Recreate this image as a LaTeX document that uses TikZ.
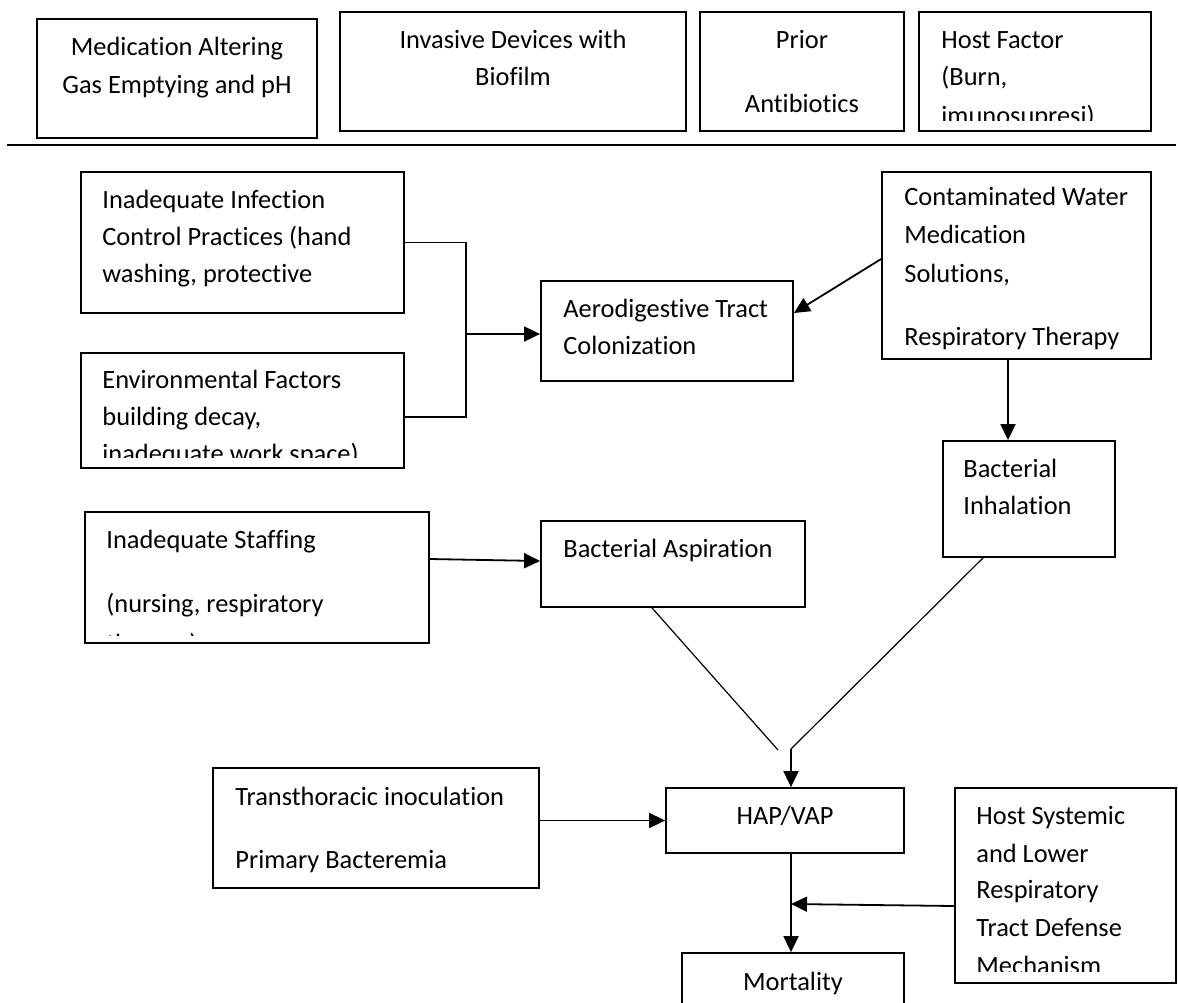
\documentclass[tikz,border=0pt]{standalone}
\usepackage{fontspec}
\setmainfont{Carlito}[Ligatures=NoCommon]
\usetikzlibrary{arrows.meta,fit}

\begin{document}
\begin{tikzpicture}[x=0.5pt,y=-0.5pt,
  box/.style={draw,line width=0.9pt,inner sep=0pt},
  txt/.style={anchor=base west,inner sep=0pt,font=\fontsize{13.2}{18.6}\selectfont},
  ctxt/.style={anchor=base,inner sep=0pt,font=\fontsize{13.2}{18.6}\selectfont},
  conn/.style={line width=0.9pt},
  diag/.style={line width=0.6pt},
  arr/.style={line width=0.9pt,-{Triangle[length=8pt,width=7.5pt]}}]
\useasboundingbox (0,0) rectangle (1178,1002);
\clip (0,0) rectangle (1178,1002);
\fill[white] (0,0) rectangle (1178,1002);

% top row
\node[box,fit={(37,19) (317,138)}] (med) {};
\node[box,fit={(340,12) (686,131)}] (inv) {};
\node[box,fit={(700,12) (904,131)}] (prior) {};
\node[box,fit={(919,12) (1151,131)}] (host) {};
\draw[line width=1.1pt] (7,145) -- (1176,145);

\node[ctxt] (med1) at (177,55) {Medication Altering};
\node[ctxt] (med2) at (177,93) {Gas Emptying and pH};
\node[ctxt] (inv1) at (513,48) {Invasive Devices with};
\node[ctxt] (inv2) at (513,85) {Biofilm};
\node[ctxt] (prior1) at (802,48) {Prior};
\node[ctxt] (prior2) at (802,112) {Antibiotics};
\node[txt] (host1) at (941,48) {Host Factor};
\node[txt] (host2) at (941,85) {(Burn,};
\begin{scope}
\clip (919,12) rectangle (1151,120);
\node[txt] (host3) at (941,124) {imunosupresi)};
\end{scope}

% boxes
\node[box,fit={(81,172) (404,313)}] (infect) {};
\node[box,fit={(81,353) (404,468)}] (env) {};
\node[box,fit={(541,281) (793,381)}] (aero) {};
\node[box,fit={(882,172) (1151,359)}] (contam) {};
\node[box,fit={(943,441) (1115,557)}] (inhal) {};
\node[box,fit={(85,512) (429,643)}] (staff) {};
\node[box,fit={(541,521) (805,607)}] (asp) {};
\node[box,fit={(213,768) (539,888)}] (trans) {};
\node[box,fit={(666,788) (904,853)}] (hap) {};
\node[box,fit={(955,788) (1176,983)}] (sysdef) {};
\node[box,fit={(682,953) (904,1030)}] (mort) {};

\node[txt] (infect1) at (102,208) {Inadequate Infection};
\node[txt] (infect2) at (102,245) {Control Practices (hand};
\node[txt] (infect3) at (102,282) {washing, protective};

\node[txt] (env1) at (102,388) {Environmental Factors};
\node[txt] (env2) at (102,425) {building decay,};
\begin{scope}
\clip (81,353) rectangle (404,457);
\node[txt] (env3) at (102,462) {inadequate work space)};
\end{scope}

\node[txt] (aero1) at (563,317) {Aerodigestive Tract};
\node[txt] (aero2) at (563,354) {Colonization};

\node[txt] (contam1) at (904,205) {Contaminated Water};
\node[txt] (contam2) at (904,243) {Medication};
\node[txt] (contam3) at (904,282) {Solutions,};
\begin{scope}
\clip (882,172) rectangle (1151,349);
\node[txt] (contam4) at (904,345) {Respiratory Therapy};
\end{scope}

\node[txt] (inhal1) at (963,477) {Bacterial};
\node[txt] (inhal2) at (963,514) {Inhalation};

\node[txt] (staff1) at (106,548) {Inadequate Staffing};
\node[txt] (staff2) at (106,612) {(nursing, respiratory};
\begin{scope}
\clip (85,512) rectangle (429,635);
\node[txt] (staff3) at (106,652) {therapy)};
\end{scope}

\node[txt] (asp1) at (563,557) {Bacterial Aspiration};

\node[txt] (trans1) at (235,805) {Transthoracic inoculation};
\node[txt] (trans2) at (235,868) {Primary Bacteremia};

\node[ctxt] (hap1) at (785,824) {HAP/VAP};

\node[txt] (sysdef1) at (976,824) {Host Systemic};
\node[txt] (sysdef2) at (976,862) {and Lower};
\node[txt] (sysdef3) at (976,898) {Respiratory};
\node[txt] (sysdef4) at (976,936) {Tract Defense};
\begin{scope}
\clip (955,788) rectangle (1176,971);
\node[txt] (sysdef5) at (976,974) {Mechanism};
\end{scope}

\node[ctxt] (mort1) at (793,990) {Mortality};

% connectors
\coordinate (bus) at (466,334);
\coordinate (joinl) at (778,750);
\coordinate (joinr) at (791,749);
\coordinate (stem) at (791,904);

\draw[conn] (infect.east) -| (bus);
\draw[conn] ([yshift=-3.25pt]env.east) -| (bus);
\draw[arr] (bus) -- (bus -| aero.west);
\draw[arr] ([yshift=3.25pt]contam.west) -- ([yshift=9pt]aero.east);
\draw[arr] ([xshift=-4.25pt]contam.south) -- ([xshift=-4.25pt]contam.south |- inhal.north);
\draw[arr] ([yshift=9.25pt]staff.east) -- ([yshift=1.5pt]asp.west);
\draw[diag] ([xshift=-10.5pt]asp.south) -- (joinl);
\draw[diag] ([xshift=-23pt]inhal.south) -- (joinr);
\draw[arr] (joinr) -- (joinr |- hap.north);
\draw[arr] (trans.east |- hap.west) -- (hap.west);
\draw[arr] (hap.south -| joinr) -- (joinr |- mort.north);
\draw[arr] ([yshift=-10.25pt]sysdef.west) -- (stem);
\end{tikzpicture}
\end{document}
